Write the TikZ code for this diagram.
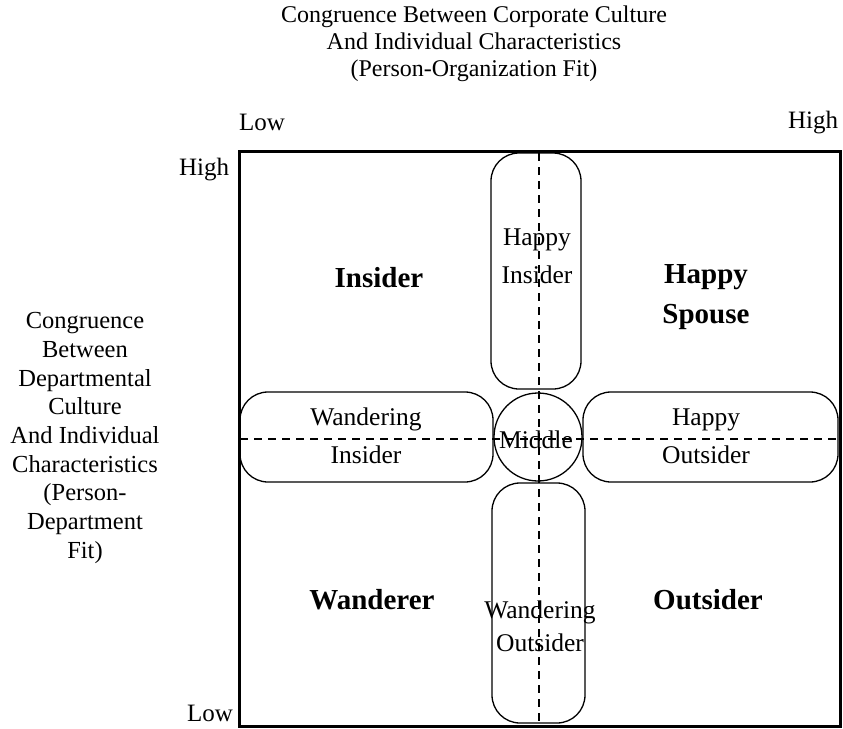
\documentclass[tikz,border=0pt]{standalone}
\usepackage{fontspec}
\setmainfont{Liberation Serif}
\tikzset{
  axis/.style={line width=1.8pt, dash pattern=on 8pt off 6pt},
  pill/.style={line width=1.3pt, rounded corners=28pt},
  quad/.style={font=\bfseries\fontsize{29}{34}\selectfont, align=center},
  zone/.style={font=\fontsize{25.5}{38}\selectfont, align=center},
  tick/.style={font=\fontsize{25}{30}\selectfont, anchor=base},
}
\begin{document}
\begin{tikzpicture}[x=1pt, y=-1pt]
    \fill[white] (0,0) rectangle (843,728);
    \useasboundingbox (0,0) rectangle (843,728);

    % Achsentitel
    \node[align=center, font=\fontsize{24}{27}\selectfont] (orgfit) at (474,44)
        {Congruence Between Corporate Culture\\And Individual Characteristics\\(Person-Organization Fit)};
    \node[align=center, font=\fontsize{24.5}{28.7}\selectfont] (depfit) at (85,438)
        {Congruence\\Between\\Departmental\\Culture\\And Individual\\Characteristics\\(Person-\\Department\\Fit)};

    % Skala
    \node[tick] (xlow) at (262,130) {Low};
    \node[tick] (xhigh) at (813,128) {High};
    \node[tick] (yhigh) at (204,175) {High};
    \node[tick] (ylow) at (210,721) {Low};

    % Rahmen und Achsen
    \draw[line width=3pt] (239,151) rectangle (840,726);
    \draw[axis] (539,153) -- (539,724);
    \draw[axis] (240,439) -- (838,439);

    % Zwischenzonen
    \draw[pill] (491,153) rectangle (581,389);
    \draw[pill] (492,483) rectangle (585,723);
    \draw[pill] (240,392) rectangle (493,482);
    \draw[pill] (583,392) rectangle (838,482);
    \draw[line width=1.3pt] (538,437) circle[radius=44pt];

    \node[zone] (hapins) at (537,256) {Happy\\Insider};
    \node[zone] (wandins) at (366,436) {Wandering\\Insider};
    \node[zone] (hapout) at (706,436) {Happy\\Outsider};
    \node[zone, font=\fontsize{25.5}{33}\selectfont] (wandout) at (540,626) {Wandering\\Outsider};
    \node[font=\fontsize{25.5}{30}\selectfont] (middle) at (536,440) {Middle};

    % Quadranten
    \node[quad] (insider) at (379,278) {Insider};
    \node[quad, font=\bfseries\fontsize{29}{40}\selectfont] (spouse) at (706,297) {Happy\\Spouse};
    \node[quad] (wanderer) at (372,600) {Wanderer};
    \node[quad] (outsider) at (708,600) {Outsider};
\end{tikzpicture}
\end{document}
